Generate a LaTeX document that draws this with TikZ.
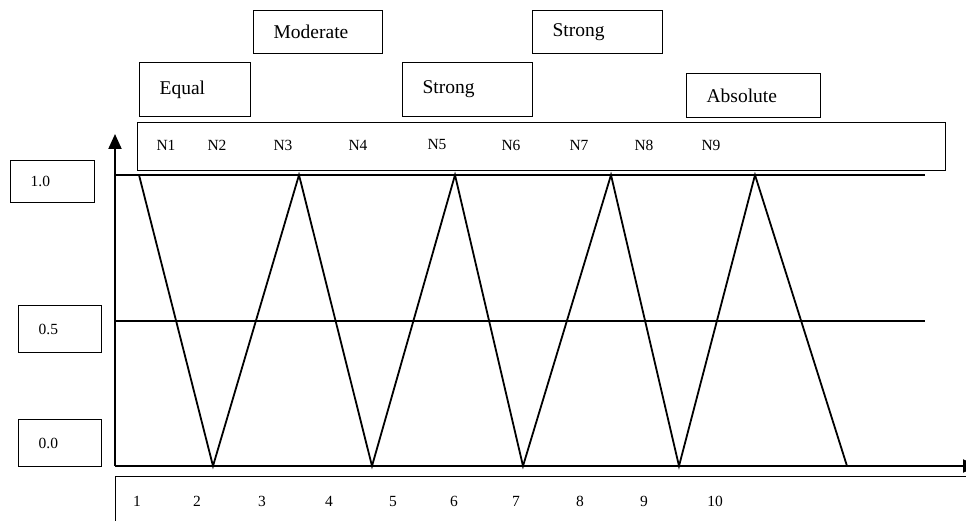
\documentclass[tikz,border=0pt]{standalone}
\usepackage{fontspec}
\setmainfont{Liberation Serif}
\usetikzlibrary{arrows.meta,positioning}
\tikzset{
  >={Triangle[width=13pt,length=15pt]},
  axis/.style={line width=2pt},
  level/.style={line width=1.8pt},
  curve/.style={line width=1.8pt,line join=miter},
  termbox/.style={draw,line width=1.3pt,anchor=north west,inner xsep=20pt,
    inner ysep=0pt,align=left,font=\fontsize{19.5}{22}\selectfont},
  valbox/.style={draw,line width=1.3pt,anchor=north west,inner xsep=20pt,
    inner ysep=0pt,align=left,font=\fontsize{15.5}{18}\selectfont},
  frame/.style={draw,line width=1.3pt,anchor=north west,inner sep=0pt},
  tick/.style={font=\fontsize{15.5}{18}\selectfont,inner sep=0pt}
}
\begin{document}
\begin{tikzpicture}[x=1pt,y=-1pt]
  \useasboundingbox (0,0) rectangle (966,521);
  \clip (0,0) rectangle (966,521);

  % linguistic terms
  \node[termbox,text width=89pt,minimum height=43pt] (moderate) at (253,10) {Moderate};
  \node[termbox,text width=90pt,minimum height=43pt] (strongtop) at (532,10) {Strong};
  \node[termbox,text width=71pt,minimum height=54pt] (equal) at (139,62) {Equal};
  \node[termbox,text width=90pt,minimum height=54pt] (strong) at (402,62) {Strong};
  \node[termbox,text width=94pt,minimum height=44pt] (absolute) at (686,73) {Absolute};

  % fuzzy numbers
  \node[frame,minimum width=808pt,minimum height=48pt] (nbox) at (137,122) {};
  \foreach \x [count=\i] in {166,217,283,358,437,511,579,644,711}
    \node[tick] (n\i) at (\x,145) {N\i};

  % membership values
  \node[valbox,text width=44pt,minimum height=42pt] (one) at (10,160) {1.0};
  \node[valbox,text width=43pt,minimum height=47pt] (half) at (18,305) {0.5};
  \node[valbox,text width=43pt,minimum height=47pt] (zero) at (18,419) {0.0};

  % scale
  \node[frame,minimum width=880pt,minimum height=90pt] (scale) at (115,476) {};
  \foreach \x [count=\i] in {137,197,262,329,393,454,516,580,644,715}
    \node[tick] (s\i) at (\x,501) {\i};

  % axes and levels
  \draw[axis,->] (115,466) -- (115,134);
  \draw[axis,->] (115,466) -- (978,466);
  \draw[level] (115,175) -- (925,175);
  \draw[level] (115,321) -- (925,321);

  % triangular membership functions
  \draw[curve] (139,175) -- (213,466) -- (299,175) -- (372,466) -- (455,175)
    -- (523,466) -- (611,175) -- (679,466) -- (755,175) -- (847,466);
\end{tikzpicture}
\end{document}
